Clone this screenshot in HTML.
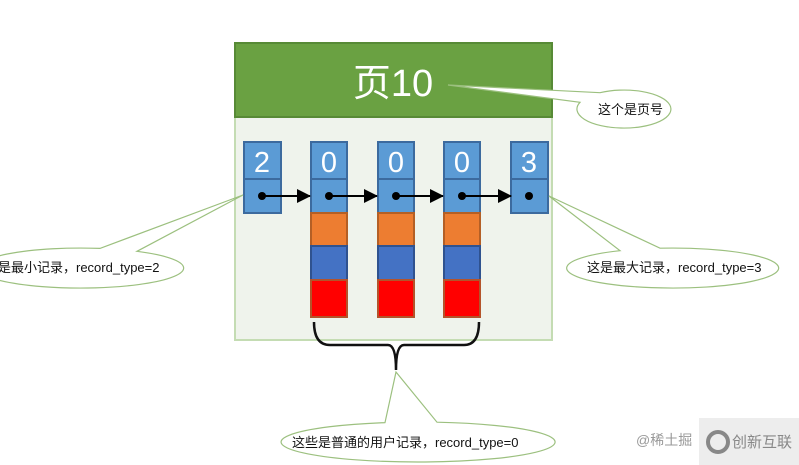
<!DOCTYPE html>
<html><head><meta charset="utf-8"><style>
html,body{margin:0;padding:0;background:#fff;}
svg{display:block;}
text{font-family:"Liberation Sans","Noto Sans CJK SC",sans-serif;}
</style></head><body>
<svg width="799" height="465" viewBox="0 0 799 465" xmlns="http://www.w3.org/2000/svg">
<defs><marker id="ah" markerWidth="14" markerHeight="14" refX="13" refY="7" orient="auto" markerUnits="userSpaceOnUse"><path d="M0,0 L14,7 L0,14 Z" fill="#000"/></marker></defs>
<rect x="235" y="117" width="317" height="223" fill="#eff3ec" stroke="#c4dcb3" stroke-width="2"/>
<rect x="235" y="43" width="317" height="74" fill="#6aa142" stroke="#578a36" stroke-width="2"/>
<text x="393" y="96" font-size="38" fill="#fff" text-anchor="middle">页10</text>
<g stroke="#3c6a9e" stroke-width="2">
<rect x="244" y="142" width="37" height="37" fill="#5b9bd5"/><rect x="244" y="179" width="37" height="34" fill="#5b9bd5"/>
<rect x="511" y="142" width="37" height="37" fill="#5b9bd5"/><rect x="511" y="179" width="37" height="34" fill="#5b9bd5"/>
</g>
<g id="r">
<g stroke-width="2">
<rect x="311" y="142" width="36" height="37" fill="#5b9bd5" stroke="#3c6a9e"/>
<rect x="311" y="179" width="36" height="34" fill="#5b9bd5" stroke="#3c6a9e"/>
<rect x="311" y="213" width="36" height="33" fill="#ed7d31" stroke="#b45f25"/>
<rect x="311" y="246" width="36" height="34" fill="#4472c4" stroke="#2f528f"/>
<rect x="311" y="280" width="36" height="37" fill="#ff0000" stroke="#b4532a"/>
</g></g>
<use href="#r" x="67"/><use href="#r" x="133"/>
<g font-size="29" fill="#fff" text-anchor="middle">
<text x="262" y="172">2</text><text x="329" y="172">0</text><text x="396" y="172">0</text><text x="462" y="172">0</text><text x="529" y="172">3</text>
</g>
<g stroke="#000" stroke-width="2" marker-end="url(#ah)">
<line x1="262" y1="196" x2="310" y2="196"/><line x1="329" y1="196" x2="377" y2="196"/><line x1="396" y1="196" x2="443" y2="196"/><line x1="462" y1="196" x2="511" y2="196"/>
</g>
<g fill="#000"><circle cx="262" cy="196" r="4"/><circle cx="329" cy="196" r="4"/><circle cx="396" cy="196" r="4"/><circle cx="462" cy="196" r="4"/><circle cx="529" cy="196" r="4"/></g>
<path d="M314,322 Q314,345 330,345 L388,345 Q396,345 396,370 Q396,345 404,345 L464,345 Q479,345 479,322" fill="none" stroke="#111" stroke-width="2.5"/>
<g fill="#fff" stroke="#9cc07f" stroke-width="1.2">
<path d="M448,85 L600,92.7 A47,19 0 1 1 580,102.3 Z"/>
<path d="M243,195 L137,251.3 A103,20 0 1 1 100,248.4 Z"/>
<path d="M549,196 L660,248.2 A106,20 0 1 1 620,250.7 Z"/>
<path d="M396,372 L437,422.2 A137,20 0 1 1 385,422.6 Z"/>
</g>
<g font-size="13" fill="#111">
<text x="598" y="114">这个是页号</text>
<text x="-2" y="272">是最小记录，record_type=2</text>
<text x="587" y="272">这是最大记录，record_type=3</text>
<text x="292" y="447">这些是普通的用户记录，record_type=0</text>
</g>
<rect x="699" y="418" width="100" height="47" fill="#ededed"/>
<text x="636" y="445" font-size="14" fill="#999">@稀土掘</text>
<circle cx="718" cy="442" r="10" fill="none" stroke="#888" stroke-width="4"/>
<text x="732" y="447" font-size="15" fill="#888">创新互联</text>
</svg>
</body></html>
